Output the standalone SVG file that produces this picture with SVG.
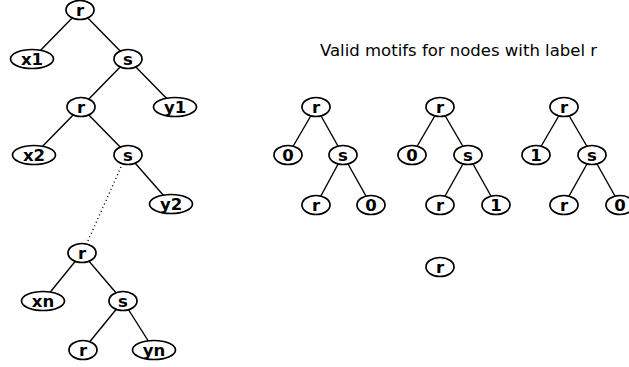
<svg xmlns="http://www.w3.org/2000/svg" width="629" height="367" viewBox="0 0 629 367">
<style>
.e{fill:#fff;stroke:#000;stroke-width:1.7}
.t{font-family:"DejaVu Sans",sans-serif;font-weight:bold;font-size:16.5px;text-anchor:middle}
.c line{stroke:#000;stroke-width:1.4}
.title{font-family:"DejaVu Sans",sans-serif;font-size:16.5px}
</style>
<rect width="629" height="367" fill="#fff"/>
<g class="c" id="connectors">
<line x1="80" y1="10" x2="32" y2="59"/>
<line x1="80" y1="10" x2="128" y2="59"/>
<line x1="128" y1="59" x2="81" y2="107"/>
<line x1="128" y1="59" x2="175" y2="107"/>
<line x1="81" y1="107" x2="34" y2="155"/>
<line x1="81" y1="107" x2="128" y2="155"/>
<line x1="128" y1="155" x2="171" y2="204"/>
<line x1="121" y1="167" x2="87" y2="243" stroke-dasharray="1,3"/>
<line x1="82" y1="253" x2="43" y2="301"/>
<line x1="82" y1="253" x2="123" y2="301"/>
<line x1="123" y1="301" x2="83" y2="350"/>
<line x1="123" y1="301" x2="154" y2="350"/>
<line x1="316" y1="107" x2="288" y2="155"/>
<line x1="316" y1="107" x2="343" y2="155"/>
<line x1="343" y1="155" x2="316" y2="205"/>
<line x1="343" y1="155" x2="371" y2="205"/>
<line x1="440" y1="107" x2="412" y2="155"/>
<line x1="440" y1="107" x2="468" y2="155"/>
<line x1="468" y1="155" x2="440" y2="205"/>
<line x1="468" y1="155" x2="496" y2="205"/>
<line x1="564" y1="107" x2="536" y2="155"/>
<line x1="564" y1="107" x2="592" y2="155"/>
<line x1="592" y1="155" x2="564" y2="205"/>
<line x1="592" y1="155" x2="620" y2="205"/>
</g>
<g id="n_r1"><ellipse class="e" cx="80" cy="10" rx="14" ry="9.5"/><text class="t" x="80" y="16">r</text></g>
<g id="n_x1"><ellipse class="e" cx="32" cy="59" rx="21.5" ry="9.5"/><text class="t" x="32" y="65">x1</text></g>
<g id="n_s1"><ellipse class="e" cx="128" cy="59" rx="14" ry="9.5"/><text class="t" x="128" y="65">s</text></g>
<g id="n_r2"><ellipse class="e" cx="81" cy="107" rx="14" ry="9.5"/><text class="t" x="81" y="113">r</text></g>
<g id="n_y1"><ellipse class="e" cx="175" cy="107" rx="21.5" ry="9.5"/><text class="t" x="175" y="113">y1</text></g>
<g id="n_x2"><ellipse class="e" cx="34" cy="155" rx="21.5" ry="9.5"/><text class="t" x="34" y="161">x2</text></g>
<g id="n_s2"><ellipse class="e" cx="128" cy="155" rx="14" ry="9.5"/><text class="t" x="128" y="161">s</text></g>
<g id="n_y2"><ellipse class="e" cx="171" cy="204" rx="21.5" ry="9.5"/><text class="t" x="171" y="210">y2</text></g>
<g id="n_r3"><ellipse class="e" cx="82" cy="253" rx="14" ry="9.5"/><text class="t" x="82" y="259">r</text></g>
<g id="n_xn"><ellipse class="e" cx="43" cy="301" rx="21.5" ry="9.5"/><text class="t" x="43" y="307">xn</text></g>
<g id="n_s3"><ellipse class="e" cx="123" cy="301" rx="14" ry="9.5"/><text class="t" x="123" y="307">s</text></g>
<g id="n_r4"><ellipse class="e" cx="83" cy="350" rx="14" ry="9.5"/><text class="t" x="83" y="356">r</text></g>
<g id="n_yn"><ellipse class="e" cx="154" cy="350" rx="21.5" ry="9.5"/><text class="t" x="154" y="356">yn</text></g>
<text class="title" x="320" y="56">Valid motifs for nodes with label r</text>
<g id="m1_r"><ellipse class="e" cx="316" cy="107" rx="14" ry="9.5"/><text class="t" x="316" y="113">r</text></g>
<g id="m1_0"><ellipse class="e" cx="288" cy="155" rx="14" ry="9.5"/><text class="t" x="288" y="161">0</text></g>
<g id="m1_s"><ellipse class="e" cx="343" cy="155" rx="14" ry="9.5"/><text class="t" x="343" y="161">s</text></g>
<g id="m1_r2"><ellipse class="e" cx="316" cy="205" rx="14" ry="9.5"/><text class="t" x="316" y="211">r</text></g>
<g id="m1_02"><ellipse class="e" cx="371" cy="205" rx="14" ry="9.5"/><text class="t" x="371" y="211">0</text></g>
<g id="m2_r"><ellipse class="e" cx="440" cy="107" rx="14" ry="9.5"/><text class="t" x="440" y="113">r</text></g>
<g id="m2_0"><ellipse class="e" cx="412" cy="155" rx="14" ry="9.5"/><text class="t" x="412" y="161">0</text></g>
<g id="m2_s"><ellipse class="e" cx="468" cy="155" rx="14" ry="9.5"/><text class="t" x="468" y="161">s</text></g>
<g id="m2_r2"><ellipse class="e" cx="440" cy="205" rx="14" ry="9.5"/><text class="t" x="440" y="211">r</text></g>
<g id="m2_1"><ellipse class="e" cx="496" cy="205" rx="14" ry="9.5"/><text class="t" x="496" y="211">1</text></g>
<g id="m3_r"><ellipse class="e" cx="564" cy="107" rx="14" ry="9.5"/><text class="t" x="564" y="113">r</text></g>
<g id="m3_1"><ellipse class="e" cx="536" cy="155" rx="14" ry="9.5"/><text class="t" x="536" y="161">1</text></g>
<g id="m3_s"><ellipse class="e" cx="592" cy="155" rx="14" ry="9.5"/><text class="t" x="592" y="161">s</text></g>
<g id="m3_r2"><ellipse class="e" cx="564" cy="205" rx="14" ry="9.5"/><text class="t" x="564" y="211">r</text></g>
<g id="m3_0"><ellipse class="e" cx="620" cy="205" rx="14" ry="9.5"/><text class="t" x="620" y="211">0</text></g>
<g id="m4_r"><ellipse class="e" cx="440" cy="267" rx="14" ry="9.5"/><text class="t" x="440" y="273">r</text></g>
</svg>
